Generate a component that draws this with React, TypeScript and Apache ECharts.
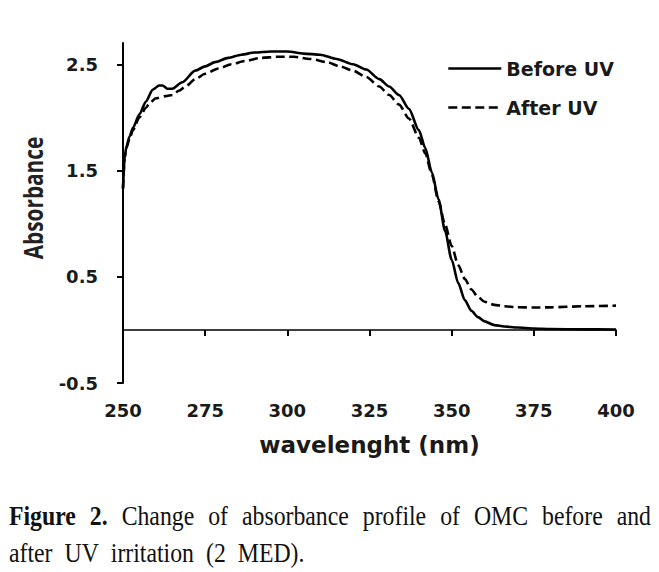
import { useEffect, useRef } from "react";
import * as echarts from "echarts";

// ---- data ----
const xTickValues = [250, 275, 300, 325, 350, 375, 400];
const yTickValues = [-0.5, 0.5, 1.5, 2.5];

const beforeWl = [250, 250.5, 251, 252, 253, 255, 257, 259, 261, 262, 263.5, 265, 268, 272, 275, 278, 282, 286, 290, 295, 300, 305, 310, 315, 320, 324, 328, 331, 334, 337, 340, 342, 344, 346, 348, 350, 352, 354, 356, 358, 360, 363, 366, 370, 375, 380, 390, 400];
const beforeAbs = [1.33, 1.62, 1.72, 1.82, 1.9, 2.03, 2.15, 2.26, 2.3, 2.3, 2.27, 2.27, 2.33, 2.44, 2.48, 2.52, 2.56, 2.59, 2.61, 2.62, 2.62, 2.6, 2.59, 2.55, 2.5, 2.45, 2.36, 2.29, 2.21, 2.08, 1.88, 1.71, 1.48, 1.23, 0.93, 0.66, 0.44, 0.28, 0.18, 0.12, 0.08, 0.045, 0.032, 0.022, 0.013, 0.008, 0.005, 0.004];

const afterWl = [250, 250.5, 251, 252, 253, 255, 257, 258, 260, 263, 265, 267, 269, 272, 275, 279, 283, 287, 292, 297, 302, 307, 312, 316, 320, 324, 328, 331, 334, 337, 340, 342, 344, 346, 348, 350, 352, 354, 356, 358, 360, 363, 366, 370, 375, 380, 390, 400];
const afterAbs = [1.33, 1.62, 1.71, 1.8, 1.88, 2.0, 2.09, 2.13, 2.18, 2.2, 2.21, 2.25, 2.29, 2.36, 2.41, 2.46, 2.5, 2.53, 2.56, 2.57, 2.57, 2.55, 2.52, 2.48, 2.44, 2.38, 2.29, 2.21, 2.12, 1.99, 1.81, 1.66, 1.46, 1.21, 0.99, 0.79, 0.61, 0.48, 0.38, 0.31, 0.265, 0.235, 0.222, 0.213, 0.21, 0.212, 0.222, 0.228];

const seriesNames = ["Before UV", "After UV"];
const xTitle = "wavelenght (nm)";
const yTitle = "Absorbance";
const captionLine1 = [
  { t: "Figure", b: true },
  { t: "2.", b: true },
  { t: "Change", b: false },
  { t: "of", b: false },
  { t: "absorbance", b: false },
  { t: "profile", b: false },
  { t: "of", b: false },
  { t: "OMC", b: false },
  { t: "before", b: false },
  { t: "and", b: false },
];
const captionLine2 = ["after", "UV", "irritation", "(2", "MED)."];

export default function App() {
  const ref = useRef<HTMLDivElement>(null);

  useEffect(() => {
    if (!ref.current) return;
    const chart = echarts.init(ref.current, null, { renderer: "svg" });

    const capFont = "Liberation Serif";
    const capSize = 27;
    const capScale = 0.88;
    const ctx = document.createElement("canvas").getContext("2d")!;
    const measure = (t: string, bold: boolean) => {
      ctx.font = `${bold ? "bold " : ""}${capSize}px "${capFont}"`;
      return ctx.measureText(t).width * capScale;
    };

    const graphics: any[] = [];
    // caption line 1 (justified)
    const l1Left = 9;
    const l1Right = 651;
    const widths1 = captionLine1.map((w) => measure(w.t, w.b));
    const sum1 = widths1.reduce((a, b) => a + b, 0);
    const gap1 = (l1Right - l1Left - sum1) / (captionLine1.length - 1);
    let cx = l1Left;
    captionLine1.forEach((w, i) => {
      graphics.push({
        type: "text",
        x: cx,
        y: 516,
        scaleX: capScale,
        style: {
          text: w.t,
          fontFamily: capFont,
          fontSize: capSize,
          fontWeight: w.b ? "bold" : "normal",
          fill: "#111",
          align: "left",
          verticalAlign: "middle",
        },
      });
      cx += widths1[i] + gap1;
    });
    // caption line 2
    let cx2 = l1Left;
    captionLine2.forEach((t) => {
      graphics.push({
        type: "text",
        x: cx2,
        y: 553,
        scaleX: capScale,
        style: {
          text: t,
          fontFamily: capFont,
          fontSize: capSize,
          fill: "#111",
          align: "left",
          verticalAlign: "middle",
        },
      });
      cx2 += measure(t, false) + 12;
    });
    // y axis title
    graphics.push({
      type: "text",
      x: 33,
      y: 198,
      rotation: Math.PI / 2,
      scaleX: 0.8,
      style: {
        text: yTitle,
        fontFamily: "Open Sans",
        fontSize: 26,
        fontWeight: "bold",
        fill: "#222",
        align: "center",
        verticalAlign: "middle",
      },
    });

    const tickFont = {
      fontFamily: "DejaVu Sans",
      fontWeight: "bold" as const,
      fontSize: 18,
      color: "#1a1a1a",
    };

    chart.setOption({
      animation: false,
      backgroundColor: "#ffffff",
      grid: { left: 123, right: 43, top: 43, bottom: 189, containLabel: false, outerBoundsMode: "none" },
      legend: {
        show: true,
        orient: "vertical",
        left: 447,
        top: 59,
        padding: 0,
        itemWidth: 53,
        itemHeight: 14,
        itemGap: 20,
        data: seriesNames,
        itemStyle: { opacity: 0 },
        lineStyle: { width: 2.6 },
        textStyle: { ...tickFont, fontSize: 19 },
      },
      xAxis: [
        {
          type: "value",
          min: 250,
          max: 400,
          interval: 25,
          axisLine: { show: true, onZero: true, lineStyle: { color: "#000", width: 1.6 } },
          axisTick: { show: true, inside: false, length: 6, lineStyle: { color: "#000", width: 2 } },
          axisLabel: { show: false },
          splitLine: { show: false },
        },
        {
          type: "value",
          min: 250,
          max: 400,
          interval: 25,
          position: "bottom",
          axisLine: { show: false, onZero: false },
          axisTick: { show: false },
          splitLine: { show: false },
          axisLabel: {
            show: true,
            margin: 18,
            customValues: xTickValues,
            ...tickFont,
          },
          name: xTitle,
          nameLocation: "middle",
          nameGap: 50,
          nameTextStyle: { fontFamily: "DejaVu Sans", fontWeight: "bold", fontSize: 23, color: "#1a1a1a" },
        },
      ],
      yAxis: {
        type: "value",
        min: -0.5,
        max: 2.7,
        interval: 1,
        axisLine: { show: true, onZero: false, lineStyle: { color: "#000", width: 2 } },
        axisTick: {
          show: true,
          inside: false,
          length: 6,
          customValues: yTickValues,
          lineStyle: { color: "#000", width: 2 },
        },
        axisLabel: {
          show: true,
          margin: 25,
          customValues: yTickValues,
          formatter: (v: number) => String(v),
          ...tickFont,
        },
        splitLine: { show: false },
      },
      series: [
        {
          name: seriesNames[0],
          type: "line",
          xAxisIndex: 0,
          data: beforeWl.map((w, i) => [w, beforeAbs[i]]),
          symbol: "none",
          showSymbol: false,
          smooth: 0.25,
          smoothMonotone: "x",
          lineStyle: { color: "#000", width: 2.6, type: "solid" },
          itemStyle: { color: "#000" },
        },
        {
          name: seriesNames[1],
          type: "line",
          xAxisIndex: 0,
          data: afterWl.map((w, i) => [w, afterAbs[i]]),
          symbol: "none",
          showSymbol: false,
          smooth: 0.25,
          smoothMonotone: "x",
          lineStyle: { color: "#000", width: 2.6, type: [9, 4.5] },
          itemStyle: { color: "#000" },
        },
      ],
      graphic: graphics,
    });

    return () => chart.dispose();
  }, []);

  return (
    <div
      ref={ref}
      style={{ position: "fixed", left: 0, top: 0, width: 659, height: 572, background: "#fff" }}
    />
  );
}
